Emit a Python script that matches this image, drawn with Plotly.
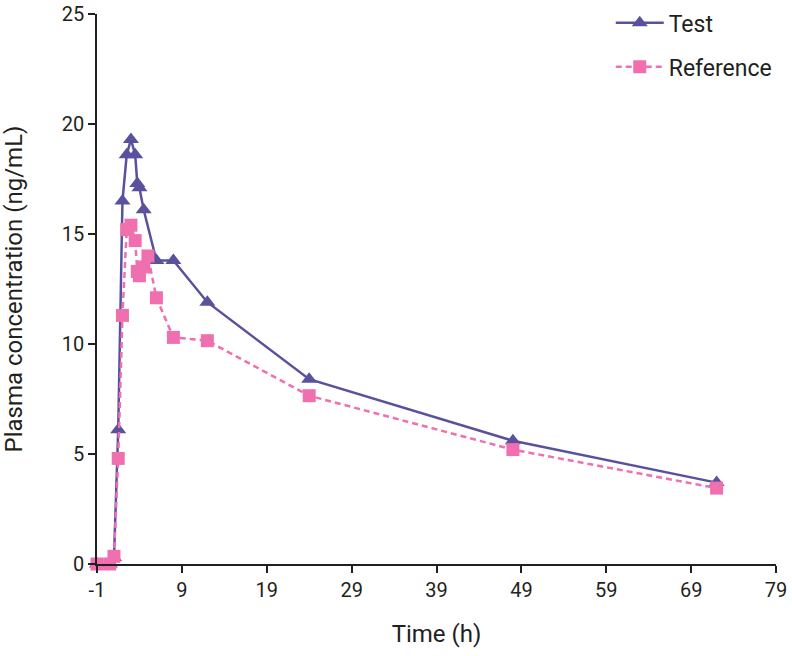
import plotly.graph_objects as go

# Time points (h) and plasma concentrations (ng/mL)
test_time = [-1, 0.5, 1, 1.5, 2, 2.5, 3, 3.5, 3.75, 4, 4.5, 6, 8, 12, 24, 48, 72]
test_conc = [0, 0, 0.3, 6.1, 16.5, 18.6, 19.3, 18.6, 17.3, 17.1, 16.1, 13.8, 13.8, 11.9, 8.4, 5.6, 3.7]

ref_time = [-1, 0.5, 1, 1.5, 2, 2.5, 3, 3.5, 3.75, 4, 4.5, 5, 6, 8, 12, 24, 48, 72]
ref_conc = [0, 0, 0.35, 4.8, 11.3, 15.2, 15.4, 14.7, 13.3, 13.1, 13.5, 14.0, 12.1, 10.3, 10.15, 7.65, 5.2, 3.45]

x_ticks = [-1, 9, 19, 29, 39, 49, 59, 69, 79]
y_ticks = [0, 5, 10, 15, 20, 25]

TEST_COLOR = "#5A519E"
REF_COLOR = "#F06FAE"
FONT = "Roboto, Liberation Sans, Arial, sans-serif"
TXT = "#231F20"

fig = go.Figure()
fig.add_trace(go.Scatter(
    x=test_time, y=test_conc, name="Test", mode="lines+markers",
    line=dict(color=TEST_COLOR, width=2.5),
    marker=dict(symbol="triangle-up", size=14, color=TEST_COLOR),
    legendgroup="a", cliponaxis=False,
))
fig.add_trace(go.Scatter(
    x=ref_time, y=ref_conc, name="Reference", mode="lines+markers",
    line=dict(color=REF_COLOR, width=2.5, dash="6px,4px"),
    marker=dict(symbol="square", size=13, color=REF_COLOR),
    legendgroup="b", cliponaxis=False,
))

fig.update_layout(
    width=792, height=656,
    margin=dict(l=97, r=16, t=14, b=92, autoexpand=False),
    plot_bgcolor="white", paper_bgcolor="white",
    font=dict(family=FONT, size=20, color=TXT),
    showlegend=True,
    legend=dict(xref="container", yref="container", x=0.982, y=0.998,
                xanchor="right", yanchor="top",
                font=dict(size=23, color=TXT), tracegroupgap=11,
                bgcolor="rgba(0,0,0,0)", itemwidth=48),
    xaxis=dict(range=[-1, 79], tickvals=x_ticks, ticktext=[str(v) for v in x_ticks],
               showline=True, linecolor="#231F20", linewidth=1.5,
               ticks="outside", ticklen=7, tickcolor="#231F20", tickwidth=1.5,
               showgrid=False, zeroline=False, automargin=False,
               title=dict(text="Time (h)", font=dict(size=24), standoff=24)),
    yaxis=dict(range=[0, 25], tickvals=y_ticks, ticktext=[str(v) for v in y_ticks],
               showline=True, linecolor="#231F20", linewidth=1.5,
               ticks="outside", ticklen=7, tickcolor="#231F20", tickwidth=1.5,
               showgrid=False, zeroline=False, automargin=False,
               title=dict(text="Plasma concentration (ng/mL)", font=dict(size=24), standoff=32)),
)

fig.write_html("out.html", config={"displayModeBar": False},
               post_script="document.body.style.margin='0';")
